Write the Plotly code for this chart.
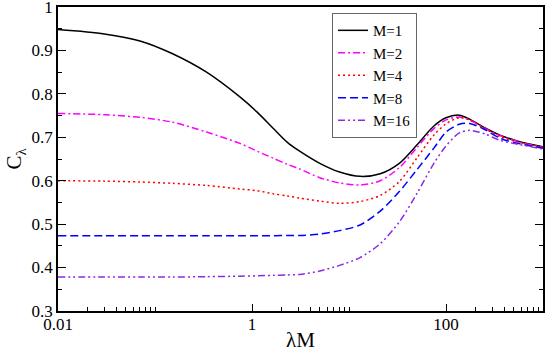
import plotly.graph_objects as go

# lambda*M sample points (log axis)
lam_m = [0.01, 0.03, 0.07, 0.15, 0.34, 0.75, 1.13, 1.65, 2.3, 3.1, 5, 8, 13,
         21, 33, 50, 75, 100, 137, 175, 250, 360, 550, 1000]

c_m1 = [0.948, 0.938, 0.922, 0.893, 0.850, 0.793, 0.758, 0.721, 0.689, 0.668,
        0.640, 0.620, 0.610, 0.616, 0.640, 0.682, 0.726, 0.745, 0.751, 0.742,
        0.722, 0.705, 0.691, 0.678]
c_m2 = [0.755, 0.752, 0.746, 0.735, 0.712, 0.686, 0.668, 0.652, 0.638, 0.627,
        0.607, 0.595, 0.590, 0.600, 0.630, 0.676, 0.720, 0.740, 0.747, 0.740,
        0.721, 0.704, 0.690, 0.677]
c_m4 = [0.600, 0.599, 0.597, 0.594, 0.589, 0.581, 0.577, 0.570, 0.565, 0.560,
        0.553, 0.548, 0.552, 0.566, 0.598, 0.652, 0.705, 0.731, 0.745, 0.740,
        0.720, 0.702, 0.689, 0.677]
c_m8 = [0.473, 0.473, 0.473, 0.473, 0.473, 0.473, 0.473, 0.473, 0.474, 0.474,
        0.477, 0.485, 0.498, 0.530, 0.575, 0.625, 0.675, 0.712, 0.730, 0.732,
        0.718, 0.698, 0.686, 0.675]
c_m16 = [0.378, 0.378, 0.378, 0.378, 0.379, 0.380, 0.381, 0.382, 0.383, 0.384,
         0.392, 0.405, 0.423, 0.455, 0.505, 0.570, 0.640, 0.680, 0.710, 0.716,
         0.708, 0.693, 0.684, 0.673]

series = [
    ("M=1", c_m1, "black", "solid"),
    ("M=2", c_m2, "#ff00ff", "7px,3px,2px,3px"),
    ("M=4", c_m4, "#ff0000", "2px,3px"),
    ("M=8", c_m8, "#0000ff", "8px,4px"),
    ("M=16", c_m16, "#8a2be2", "7px,3px,2px,3px,2px,3px"),
]

font = "Liberation Serif, Times New Roman, serif"

fig = go.Figure()
for name, ys, color, dash in series:
    fig.add_trace(go.Scatter(x=lam_m, y=ys, mode="lines", name=name,
                             line=dict(color=color, width=1.5, dash=dash, shape="spline", smoothing=0.8)))

x_minor = [k * 0.01 for k in range(2, 11)] + list(range(2, 11)) + [k * 100 for k in range(2, 11)]

fig.update_layout(
    width=545, height=352,
    margin=dict(l=58, r=2, t=7, b=41, autoexpand=False),
    plot_bgcolor="white", paper_bgcolor="white",
    font=dict(family=font, size=17, color="black"),
    legend=dict(x=0.565, y=0.98, xanchor="left", yanchor="top",
                bordercolor="#666666", borderwidth=1, bgcolor="white",
                font=dict(family=font, size=15), tracegroupgap=0, itemwidth=30),
    xaxis=dict(
        type="log", range=[-2, 3], automargin=False,
        tickmode="array", tickvals=[0.01, 1, 100], ticktext=["0.01", "1", "100"],
        ticks="inside", ticklen=7, tickwidth=1, tickcolor="black",
        ticklabeloverflow="allow", ticklabelstandoff=-3,
        minor=dict(tickmode="array", tickvals=x_minor, ticks="inside", ticklen=4, tickcolor="black"),
        showline=True, linecolor="black", linewidth=1.5, mirror=True,
        showgrid=False, zeroline=False,
        title=dict(text="λM", font=dict(family=font, size=21), standoff=0),
    ),
    yaxis=dict(
        range=[0.2999, 1.0001], automargin=False,
        tickmode="array",
        tickvals=[0.3, 0.4, 0.5, 0.6, 0.7, 0.8, 0.9, 1.0],
        ticktext=["0.3", "0.4", "0.5", "0.6", "0.7", "0.8", "0.9", "1"],
        ticks="inside", ticklen=8, tickwidth=1, tickcolor="black",
        ticklabeloverflow="allow",
        minor=dict(dtick=0.05, tick0=0.3, ticks="inside", ticklen=4, tickcolor="black"),
        showline=True, linecolor="black", linewidth=1.5, mirror="ticks",
        showgrid=False, zeroline=False,
        title=dict(text="C<sub>λ</sub>", font=dict(family=font, size=21), standoff=4),
    ),
)

fig.write_html("out.html", config={"displayModeBar": False},
               post_script="document.body.style.margin='0';")
